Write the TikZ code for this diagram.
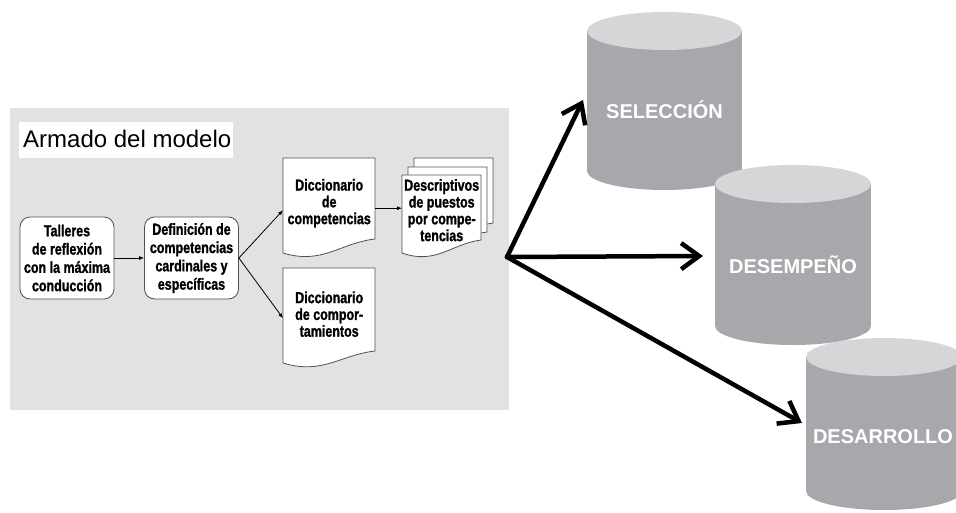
\documentclass[tikz,border=0pt]{standalone}
\usepackage{fontspec}
\setmainfont{Liberation Sans}
\newfontfamily\cond[FakeStretch=0.78, BoldFeatures={FakeBold=1.2}]{Liberation Sans}
\usetikzlibrary{arrows.meta,calc}
\definecolor{panel}{HTML}{E1E2E4}
\definecolor{cylbody}{HTML}{A7A8AB}
\definecolor{cyltop}{HTML}{D5D6D8}
\definecolor{edgegray}{HTML}{505050}
% #1 node, #2 dx, #3 dy, #4 width, #5 left height, #6 right height
\newcommand\docpath[6]{%
  \filldraw[docshape] ($(#1.north west)+(#2,#3)$) -- ($(#1.north west)+(#2+#4,#3)$)
    -- ($(#1.north west)+(#2+#4,#3+#6)$)
    .. controls ($(#1.north west)+(#2+0.62*#4,#3+#6+4)$) and ($(#1.north west)+(#2+0.43*#4,#3+#5+12)$)
    .. ($(#1.north west)+(#2,#3+#5)$) -- cycle;}
\begin{document}
\begin{tikzpicture}[x=1pt,y=-1pt,
  roundbox/.style={font=\cond\bfseries\fontsize{16}{18.3}\selectfont, align=center,
    draw=edgegray, line width=0.8pt, fill=white, rounded corners=10pt,
    minimum width=94pt, minimum height=82pt, inner sep=1pt},
  doctext/.style={font=\cond\bfseries\fontsize{16}{16.8}\selectfont, align=center, inner sep=0pt},
  docshape/.style={draw=edgegray, line width=0.8pt, fill=white},
  thinarrow/.style={-{Latex[length=5pt,width=4pt]}, line width=0.8pt},
  bigarrow/.style={-{Straight Barb[length=18pt,width=26pt]}, line width=4.5pt, line cap=round, line join=round},
  cyllabel/.style={font=\bfseries\fontsize{20}{24}\selectfont, text=white, inner sep=0pt}
]
\clip (0,0) rectangle (956,512);
\fill[white] (0,0) rectangle (956,512);
% panel
\fill[panel] (10,108) rectangle (509,410);
\fill[white] (19,122) rectangle (233,158);
\node[anchor=base west, font=\fontsize{24}{28}\selectfont, inner sep=0pt] (title) at (23,147) {Armado del modelo};

% boxes
\node[roundbox] (taller) at (67,258) {Talleres\\de reflexión\\con la máxima\\conducción};
\node[roundbox] (defin) at (191.5,258) {Definición de\\competencias\\cardinales y\\específicas};

% documents (nodes give names; shapes drawn behind)
\node[doctext, anchor=north west, minimum width=92pt, minimum height=90pt] (dic1) at (283,158) {};
\node[doctext, anchor=north west, minimum width=92pt, minimum height=92pt] (dic2) at (283,268) {};
\node[doctext, anchor=north west, minimum width=79pt, minimum height=70pt] (desc) at (402,175) {};
\docpath{dic1}{0}{0}{92}{95}{81}
\docpath{dic2}{0}{0}{92}{95}{83}
\docpath{desc}{12}{-17}{79}{78}{65}
\docpath{desc}{6}{-8}{79}{78}{65}
\docpath{desc}{0}{0}{79}{78}{65}
\node[doctext] at (dic1) {Diccionario\\de\\competencias};
\node[doctext] at (dic2) {Diccionario\\de compor-\\tamientos};
\node[doctext] at (desc) {Descriptivos\\de puestos\\por compe-\\tencias};

% thin connectors
\draw[thinarrow] (taller.east) -- (defin.west);
\draw[thinarrow] (defin.east) -- ($(dic1.west)+(0,7)$);
\draw[thinarrow] (defin.east) -- ($(dic2.west)+(0,4)$);
\draw[thinarrow] ($(dic1.east)+(0,5)$) -- ($(desc.west)+(0,-2)$);

% cylinders
\fill[cylbody] (587,31) rectangle (742,171);
\fill[cylbody] (664.5,171) ellipse[x radius=77.5, y radius=19];
\fill[cyltop] (664.5,31) ellipse[x radius=77.5, y radius=19];
\node[cyllabel] (sel) at (664.5,110) {SELECCIÓN};

\fill[cylbody] (715,184) rectangle (871,326);
\fill[cylbody] (793,326) ellipse[x radius=78, y radius=19];
\fill[cyltop] (793,184) ellipse[x radius=78, y radius=19];
\node[cyllabel] (desem) at (793,265) {DESEMPEÑO};

\fill[cylbody] (806,357) rectangle (962,491);
\fill[cylbody] (884,491) ellipse[x radius=78, y radius=19];
\fill[cyltop] (884,357) ellipse[x radius=78, y radius=19];
\node[cyllabel] (desa) at (883,437) {DESARROLLO};

% big arrows
\coordinate (hub) at (507,257);
\coordinate (selTip) at (583,100);
\coordinate (desemTip) at (703,256);
\coordinate (desaTip) at (802,423);
\draw[bigarrow] (hub) -- (selTip);
\draw[bigarrow] (hub) -- (desemTip);
\draw[bigarrow] (hub) -- (desaTip);
\end{tikzpicture}
\end{document}
